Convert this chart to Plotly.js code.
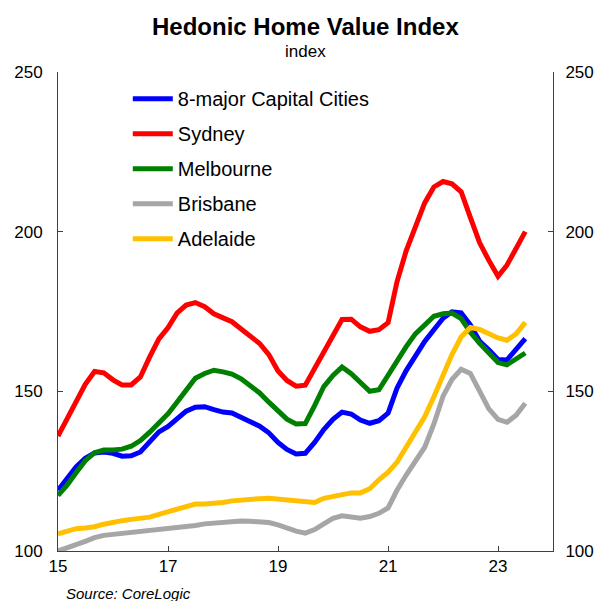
<!DOCTYPE html>
<html>
<head>
<meta charset="utf-8">
<script src="https://cdn.plot.ly/plotly-3.0.1.min.js"></script>
<style>html,body{margin:0;padding:0;background:#fff;overflow:hidden}#chart{width:597px;height:601px}</style>
</head>
<body>
<div id="chart"></div>
<script>
const dates = [
 '2015-01-01','2015-03-01','2015-05-01','2015-07-01','2015-09-01','2015-11-01',
 '2016-01-01','2016-03-01','2016-05-01','2016-07-01','2016-09-01','2016-11-01',
 '2017-01-01','2017-03-01','2017-05-01','2017-07-01','2017-09-01','2017-11-01',
 '2018-01-01','2018-03-01','2018-05-01','2018-07-01','2018-09-01','2018-11-01',
 '2019-01-01','2019-03-01','2019-05-01','2019-07-01','2019-09-01','2019-11-01',
 '2020-01-01','2020-03-01','2020-05-01','2020-07-01','2020-09-01','2020-11-01',
 '2021-01-01','2021-03-01','2021-05-01','2021-07-01','2021-09-01','2021-11-01',
 '2022-01-01','2022-03-01','2022-05-01','2022-07-01','2022-09-01','2022-11-01',
 '2023-01-01','2023-03-01','2023-05-01','2023-07-01'
];
const capitals8 = [119,122.5,126.3,129,130.7,131, 130.6,129.7,129.8,131,134,137.3,
 139,141.3,143.8,145,145.2,144.3, 143.5,143.2,142,140.5,139.1,137,
 134,131.8,130.4,130.6,134,138, 141.2,143.5,142.9,141,140,140.8,
 143.2,151,156.5,161.3,165.6,169.3, 172.9,174.9,174.6,170.8,165.7,163,
 160,159.8,163,166.5];
const sydney = [136,141.3,146.7,152.2,156.2,155.8, 153.6,152,152,154.5,160.8,166.4,
 170,174.5,177,177.8,176.5,174.3, 173,171.8,169.5,167.1,165,161.5,
 156.4,153.4,151.6,151.9,157,162.5, 167.5,172.5,172.6,170.2,168.8,169.3,
 171.5,184.3,194,202,209,214, 215.7,215,212.5,204.5,196.5,191,
 186,189.5,195,200];
const melbourne = [117.4,120.5,124.5,128.3,130.8,131.6, 131.6,131.9,132.8,134.6,137.2,140,
 143,146.6,150.5,154.1,155.6,156.6, 156.1,155.4,153.9,151.6,149.5,146.6,
 143.8,141.3,139.8,139.9,145.5,151.5, 155,157.6,155.5,152.8,150,150.5,
 155.1,159.5,164,168,171,173.5, 174.3,174.5,172.8,168.5,165,162,
 159,158.3,160,162];
const brisbane = [100,100.8,102,103,104.2,104.9, 105.2,105.5,105.7,106,106.3,106.7,
 107.1,107.4,107.7,108,108.5,108.8, 109,109.3,109.4,109.3,109.1,108.9,
 108.2,107.2,106.2,105.6,106.7,108.5, 110.2,111,110.8,110.3,110.8,111.8,
 113.5,119,123.8,128.1,132.5,139.8, 148.5,153.7,156.9,155.6,150,144.5,
 141.2,140.3,142.5,146.3];
const adelaide = [105.4,106.2,107,107.2,107.6,108.4, 109.1,109.5,109.9,110.2,110.6,111.5,
 112.4,112.9,114,114.7,114.7,114.8, 115.2,115.7,116,116.2,116.4,116.5,
 116.3,116.1,115.9,115.6,115.2,116.5, 117.2,117.7,118.2,118.2,119.5,122.3,
 124.7,127.8,132.5,137.3,142,148.3, 155.5,161.5,167,170,169.4,168.2,
 166.7,166,168,171.6];

const seriesNames = ['8-major Capital Cities','Sydney','Melbourne','Brisbane','Adelaide'];
const seriesData = [capitals8, sydney, melbourne, brisbane, adelaide];
const seriesColors = ['#0000FF','#FF0000','#008000','#A6A6A6','#FFC000'];
const yTicks = [100,150,200,250];
const xTickVals = ['2015-01-01','2017-01-01','2019-01-01','2021-01-01','2023-01-01'];
const xTickText = ['15','17','19','21','23'];

const FONT = 'Liberation Sans, Arial, sans-serif';

const traces = seriesData.map((d,i)=>({
  type:'scatter', mode:'lines', x:dates, y:d, name:seriesNames[i],
  legendgroup:'g'+i,
  line:{color:seriesColors[i], width:5},
  hoverinfo:'skip'
}));
// invisible trace to show right axis
traces.push({type:'scatter', mode:'lines', x:[dates[0]], y:[100], yaxis:'y2', showlegend:false, hoverinfo:'skip', line:{width:0}});

const axisCommon = {
  range:[100,250], tickvals:yTicks, ticktext:yTicks.map(String),
  showgrid:false, zeroline:false, showline:true, linecolor:'#404040', linewidth:1,
  ticks:'inside', ticklen:5, tickcolor:'#404040',
  tickfont:{family:FONT, size:17, color:'#000'}, fixedrange:true
};

const layout = {
  width:597, height:601,
  margin:{l:58, r:44, t:72, b:50},
  paper_bgcolor:'#fff', plot_bgcolor:'#fff',
  showlegend:true,
  legend:{x:0.141, y:0.985, xanchor:'left', yanchor:'top', bgcolor:'rgba(0,0,0,0)',
    font:{family:FONT, size:20, color:'#000'}, tracegroupgap:6, itemwidth:40},
  xaxis:{type:'date', range:['2015-01-01','2024-01-01'], tickvals:xTickVals, ticktext:xTickText,
    showgrid:false, zeroline:false, showline:true, linecolor:'#404040', linewidth:1,
    ticks:'inside', ticklen:5, tickcolor:'#404040',
    tickfont:{family:FONT, size:17, color:'#000'}, fixedrange:true},
  yaxis:Object.assign({}, axisCommon, {side:'left', ticklabelstandoff:11}),
  yaxis2:Object.assign({}, axisCommon, {side:'right', overlaying:'y', ticklabelstandoff:8}),
  annotations:[
    {text:'<b>Hedonic Home Value Index</b>', xref:'paper', yref:'paper', x:0.5, y:1, yshift:46,
     xanchor:'center', yanchor:'middle', showarrow:false, font:{family:FONT, size:24, color:'#000'}},
    {text:'index', xref:'paper', yref:'paper', x:0.5, y:1, yshift:21,
     xanchor:'center', yanchor:'middle', showarrow:false, font:{family:FONT, size:17, color:'#000'}},
    {text:'<i>Source: CoreLogic</i>', xref:'paper', yref:'paper', x:0, y:0, xshift:6, yshift:-42,
     xanchor:'left', yanchor:'middle', showarrow:false, font:{family:FONT, size:15, color:'#000'}}
  ]
};

Plotly.newPlot('chart', traces, layout, {staticPlot:true, displayModeBar:false});
</script>
</body>
</html>
